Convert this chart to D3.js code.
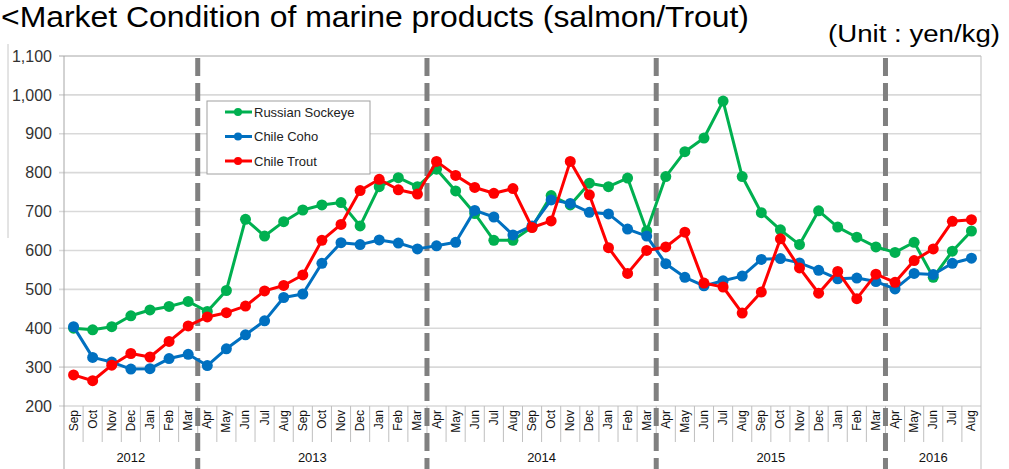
<!DOCTYPE html>
<html>
<head>
<meta charset="utf-8">
<script src="https://cdn.jsdelivr.net/npm/d3@7"></script>
<style>
  body { margin: 0; background: #fff; }
  svg { display: block; font-family: "Liberation Sans", Arial, sans-serif; }
</style>
</head>
<body>
<svg id="chart" width="1009" height="469"></svg>
<script>
// months on the x axis (Sep 2012 .. Aug 2016)
var months = ['Sep','Oct','Nov','Dec','Jan','Feb','Mar',
  'Apr','May','Jun','Jul','Aug','Sep','Oct','Nov','Dec','Jan','Feb','Mar',
  'Apr','May','Jun','Jul','Aug','Sep','Oct','Nov','Dec','Jan','Feb','Mar',
  'Apr','May','Jun','Jul','Aug','Sep','Oct','Nov','Dec','Jan','Feb','Mar',
  'Apr','May','Jun','Jul','Aug'];

// year groups: label and number of months
var years = ['2012', '2013', '2014', '2015', '2016'];
var yearSpans = [7, 12, 12, 12, 5];

var yTicks = [200, 300, 400, 500, 600, 700, 800, 900, 1000, 1100];

// yen/kg
var sockeye = [400, 396, 404, 432, 447, 456, 469,
  443, 497, 680, 637, 674, 704, 717, 723, 663, 764, 787, 764,
  809, 753, 695, 626, 626, 660, 741, 717, 773, 764, 786, 650,
  790, 854, 889, 984, 790, 697, 653, 615, 702, 660, 634, 609,
  595, 621, 531, 598, 650];
var coho = [404, 325, 313, 295, 296, 322, 333,
  304, 347, 383, 419, 479, 488, 567, 620, 615, 627, 619, 604,
  612, 621, 703, 686, 640, 663, 730, 721, 698, 694, 655, 637,
  566, 531, 509, 522, 534, 577, 579, 568, 549, 527, 529, 520,
  501, 541, 538, 567, 580];
var trout = [280, 265, 305, 335, 326, 366, 406,
  429, 440, 457, 496, 510, 537, 626, 667, 754, 783, 756, 745,
  829, 793, 762, 747, 759, 659, 676, 829, 743, 607, 541, 600,
  609, 647, 516, 506, 439, 493, 630, 555, 490, 546, 476, 539,
  518, 574, 604, 675, 679];

var series = [
  { name: 'Russian Sockeye', values: sockeye, color: '#00b050' },
  { name: 'Chile Coho', values: coho, color: '#0070c0' },
  { name: 'Chile Trout', values: trout, color: '#ff0000' }
];

var svg = d3.select('#chart');
var plotLeft = 64, plotRight = 981, plotTop = 56, plotBottom = 406;

var x = d3.scaleBand()
  .domain(d3.range(months.length))
  .range([plotLeft, plotRight])
  .padding(0);
var y = d3.scaleLinear()
  .domain([200, 1100])
  .range([plotBottom, plotTop]);

// faint remains of the slide at the left
svg.append('line').attr('x1', 8).attr('x2', 8).attr('y1', 44).attr('y2', 238)
  .attr('stroke', '#c8c8c8').attr('stroke-width', 1);

// title
svg.append('text')
  .attr('x', 1).attr('y', 27)
  .attr('font-size', 29)
  .attr('textLength', 748)
  .attr('lengthAdjust', 'spacingAndGlyphs')
  .attr('fill', '#000')
  .text('<Market Condition of marine products (salmon/Trout)');
svg.append('text')
  .attr('x', 828).attr('y', 42)
  .attr('font-size', 23)
  .attr('textLength', 172)
  .attr('lengthAdjust', 'spacingAndGlyphs')
  .attr('fill', '#000')
  .text('(Unit : yen/kg)');

// gridlines
svg.append('g').selectAll('line')
  .data(yTicks)
  .join('line')
  .attr('x1', plotLeft - 5).attr('x2', plotRight)
  .attr('y1', function(d) { return y(d); })
  .attr('y2', function(d) { return y(d); })
  .attr('stroke', function(d) { return d === 1100 ? '#a6a6a6' : '#d9d9d9'; })
  .attr('stroke-width', function(d) { return d === 1100 ? 1 : 1.6; });

// y axis labels
var yAxis = svg.append('g')
  .attr('transform', 'translate(' + plotLeft + ',0)')
  .call(d3.axisLeft(y).tickValues(yTicks).tickFormat(d3.format(',')).tickSize(0).tickPadding(12));
yAxis.select('.domain').remove();
yAxis.selectAll('text').attr('font-size', 16).attr('fill', '#333')
  .attr('font-family', '"Liberation Sans", Arial, sans-serif');

// plot frame
svg.append('line').attr('x1', plotLeft).attr('x2', plotLeft).attr('y1', plotTop).attr('y2', 469)
  .attr('stroke', '#a6a6a6');
svg.append('line').attr('x1', plotRight).attr('x2', plotRight).attr('y1', plotTop).attr('y2', 469)
  .attr('stroke', '#bfbfbf');

// month separators
svg.append('g').selectAll('line')
  .data(d3.range(1, months.length))
  .join('line')
  .attr('x1', function(i) { return x(i); })
  .attr('x2', function(i) { return x(i); })
  .attr('y1', plotBottom).attr('y2', 442)
  .attr('stroke', '#bfbfbf');

// month labels
svg.append('g').selectAll('text')
  .data(months)
  .join('text')
  .attr('transform', function(d, i) {
    return 'translate(' + (x(i) + x.bandwidth() / 2 + 4) + ',' + (plotBottom + 4) + ') rotate(-90)';
  })
  .attr('text-anchor', 'end')
  .attr('font-size', 12)
  .attr('fill', '#111')
  .text(function(d) { return d; });

// year groups
var starts = [0];
yearSpans.forEach(function(n, k) { starts.push(starts[k] + n); });
svg.append('g').selectAll('text')
  .data(years)
  .join('text')
  .attr('x', function(d, k) {
    var a = x(starts[k]);
    var b = starts[k + 1] < months.length ? x(starts[k + 1]) : plotRight;
    return (a + b) / 2;
  })
  .attr('y', 462)
  .attr('text-anchor', 'middle')
  .attr('font-size', 13)
  .attr('fill', '#111')
  .text(function(d) { return d; });

// fiscal year dividers (Mar / Apr)
svg.append('g').selectAll('line')
  .data(starts.slice(1, years.length))
  .join('line')
  .attr('x1', function(i) { return x(i); })
  .attr('x2', function(i) { return x(i); })
  .attr('y1', 58).attr('y2', 469)
  .attr('stroke', '#808080')
  .attr('stroke-width', 5)
  .attr('stroke-dasharray', '18,7');

// series
var line = d3.line()
  .x(function(d, i) { return x(i) + x.bandwidth() / 2; })
  .y(function(d) { return y(d); });

series.forEach(function(s) {
  var g = svg.append('g');
  g.append('path')
    .attr('d', line(s.values))
    .attr('fill', 'none')
    .attr('stroke', s.color)
    .attr('stroke-width', 3)
    .attr('stroke-linejoin', 'round');
  g.selectAll('circle')
    .data(s.values)
    .join('circle')
    .attr('cx', function(d, i) { return x(i) + x.bandwidth() / 2; })
    .attr('cy', function(d) { return y(d); })
    .attr('r', 5.5)
    .attr('fill', s.color);
});

// legend
var legend = svg.append('g').attr('transform', 'translate(207,101)');
legend.append('rect')
  .attr('width', 163).attr('height', 73)
  .attr('fill', '#fff')
  .attr('stroke', '#a0a0a0');
series.forEach(function(s, k) {
  var ly = 11 + k * 24.5;
  legend.append('line').attr('x1', 18).attr('x2', 45).attr('y1', ly).attr('y2', ly)
    .attr('stroke', s.color).attr('stroke-width', 3);
  legend.append('circle').attr('cx', 31).attr('cy', ly).attr('r', 4).attr('fill', s.color);
  legend.append('text').attr('x', 47).attr('y', ly + 4.5)
    .attr('font-size', 13).attr('fill', '#222')
    .text(s.name);
});
</script>
</body>
</html>
